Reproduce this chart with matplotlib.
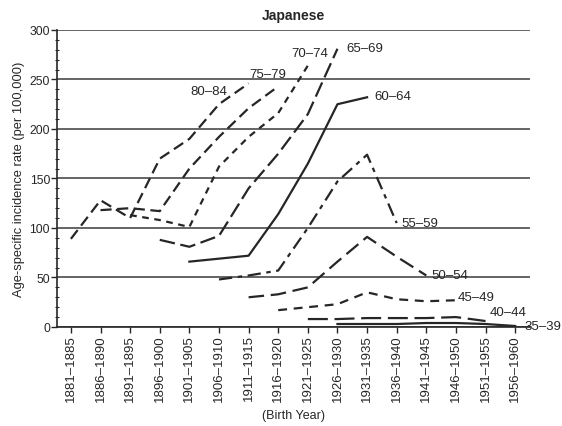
import matplotlib
matplotlib.use("Agg")
import matplotlib.pyplot as plt
from matplotlib.ticker import MultipleLocator

plt.rcParams['font.family'] = ['Liberation Sans', 'DejaVu Sans']

cohorts = ["1881–1885", "1886–1890", "1891–1895", "1896–1900", "1901–1905",
           "1906–1910", "1911–1915", "1916–1920", "1921–1925", "1926–1930",
           "1931–1935", "1936–1940", "1941–1945", "1946–1950", "1951–1955",
           "1956–1960"]

# age group -> (first cohort index, rates per 100,000)
age_80_84 = (0, [89, 128, 110, 170, 190, 225, 246])
age_75_79 = (1, [118, 120, 117, 160, 192, 221, 243])
age_70_74 = (2, [113, 108, 101, 162, 192, 216, 264])
age_65_69 = (3, [88, 81, 92, 140, 175, 215, 281])
age_60_64 = (4, [66, 69, 72, 114, 165, 225, 232])
age_55_59 = (5, [48, 52, 57, 100, 147, 174, 105])
age_50_54 = (6, [30, 33, 40, 66, 91, 71, 52])
age_45_49 = (7, [17, 20, 23, 35, 28, 26, 27])
age_40_44 = (8, [8, 8, 9, 9, 9, 10, 6])
age_35_39 = (9, [3, 3, 3, 4, 4, 3, 1])

series = [
    ("80–84", age_80_84, (0, (5, 2.5)), (-0.73, -7.5), 'right'),
    ("75–79", age_75_79, (0, (5, 2.5)), (-0.34, 13), 'center'),
    ("70–74", age_70_74, (0, (3, 2.5)), (0.07, 13), 'center'),
    ("65–69", age_65_69, (0, (7, 2.5)), (0.3, 1), 'left'),
    ("60–64", age_60_64, '-', (0.25, 1), 'left'),
    ("55–59", age_55_59, (0, (6, 2.5, 2, 2.5)), (0.15, 0), 'left'),
    ("50–54", age_50_54, (0, (7, 3)), (0.18, 0), 'left'),
    ("45–49", age_45_49, (0, (4, 3)), (0.05, 3.5), 'left'),
    ("40–44", age_40_44, (0, (9, 3)), (0.15, 9), 'left'),
    ("35–39", age_35_39, '-', (0.33, 0), 'left'),
]

fig = plt.figure(figsize=(5.62, 4.27), dpi=100)
ax = fig.add_axes([0.1014, 0.2319, 0.8416, 0.6956])

ink = '#262626'
for label, (start, vals), ls, (dx, dy), ha in series:
    xs = list(range(start, start + len(vals)))
    ax.plot(xs, vals, color=ink, lw=1.6, linestyle=ls)
    ax.text(xs[-1] + dx, vals[-1] + dy, label, fontsize=9.5, color=ink,
            ha=ha, va='center')

ax.set_xlim(-0.47, 15.5)
ax.set_ylim(0, 300)
ax.set_xticks(range(len(cohorts)))
ax.set_xticklabels(cohorts, rotation=90, fontsize=9.5, color=ink)
ax.yaxis.set_major_locator(MultipleLocator(50))
ax.yaxis.set_minor_locator(MultipleLocator(10))
ax.tick_params(axis='y', which='major', labelsize=8.7, length=4, width=1,
               colors=ink, pad=1)
ax.tick_params(axis='y', which='minor', length=2.5, width=0.8, color=ink,
               direction='inout')
ax.tick_params(axis='x', length=4, width=1, color=ink, pad=1)

ax.grid(axis='y', which='major', color='#3a3a3a', lw=1.1)
ax.set_axisbelow(True)
for side in ('top', 'right'):
    ax.spines[side].set_visible(False)
for side in ('left', 'bottom'):
    ax.spines[side].set_color(ink)
    ax.spines[side].set_linewidth(1.2)

ax.set_title("Japanese", fontsize=10, fontweight='bold', color=ink, pad=8)
ax.set_ylabel("Age-specific incidence rate (per 100,000)", fontsize=9.3,
              color=ink, labelpad=3)
ax.set_xlabel("(Birth Year)", fontsize=9, color=ink, labelpad=6)

fig.savefig("out.png", dpi=100)
